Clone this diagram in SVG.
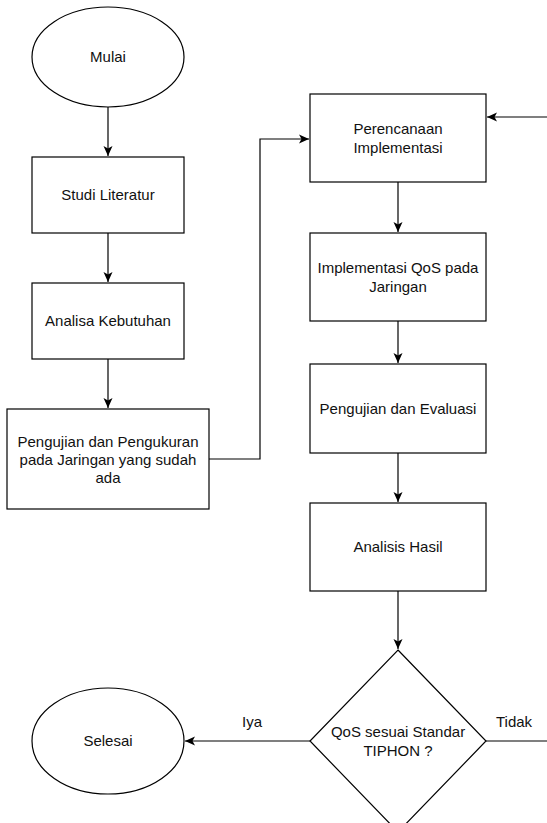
<svg xmlns="http://www.w3.org/2000/svg" width="547" height="823" viewBox="0 0 547 823">
<style>
.s{fill:#fff;stroke:#000;stroke-width:1.2}
.t{font-family:"Liberation Sans",Arial,sans-serif;font-size:15px;fill:#111;text-anchor:middle}
.c{fill:none;stroke:#000;stroke-width:1.2}
</style>
<defs>
<marker id="a" markerUnits="userSpaceOnUse" markerWidth="12" markerHeight="12" viewBox="0 0 12 12" refX="11" refY="6" orient="auto">
<path d="M1,1.5 L11,6 L1,10.5 L3.5,6 Z" fill="#000"/>
</marker>
</defs>
<rect width="547" height="823" fill="#fff"/>
<g id="connectors">
<path class="c" d="M108,107 V156" marker-end="url(#a)"/>
<path class="c" d="M108,233 V282" marker-end="url(#a)"/>
<path class="c" d="M108,359 V408" marker-end="url(#a)"/>
<path class="c" d="M209,459 H260 V139 H309" marker-end="url(#a)"/>
<path class="c" d="M398,182 V232" marker-end="url(#a)"/>
<path class="c" d="M398,321 V363" marker-end="url(#a)"/>
<path class="c" d="M398,453 V502" marker-end="url(#a)"/>
<path class="c" d="M398,591 V649" marker-end="url(#a)"/>
<path class="c" d="M310,741 H185" marker-end="url(#a)"/>
<path class="c" d="M486,741 H550"/>
<path class="c" d="M550,117 H487" marker-end="url(#a)"/>
<text class="t" x="252" y="727">Iya</text>
<text class="t" x="514" y="727">Tidak</text>
</g>
<g id="mulai">
<ellipse class="s" cx="108" cy="57" rx="76" ry="50"/>
<text class="t" x="108" y="62">Mulai</text>
</g>
<g id="studi">
<rect class="s" x="32" y="157" width="152" height="76"/>
<text class="t" x="108" y="200">Studi Literatur</text>
</g>
<g id="analisa">
<rect class="s" x="32" y="283" width="152" height="76"/>
<text class="t" x="108" y="326">Analisa Kebutuhan</text>
</g>
<g id="pengukuran">
<rect class="s" x="7" y="409" width="202" height="100"/>
<text class="t" x="108" y="447">Pengujian dan Pengukuran</text>
<text class="t" x="108" y="465">pada Jaringan yang sudah</text>
<text class="t" x="108" y="483">ada</text>
</g>
<g id="perencanaan">
<rect class="s" x="310" y="94" width="176" height="88"/>
<text class="t" x="398" y="134">Perencanaan</text>
<text class="t" x="398" y="153">Implementasi</text>
</g>
<g id="implementasi">
<rect class="s" x="310" y="233" width="176" height="88"/>
<text class="t" x="398" y="273">Implementasi QoS pada</text>
<text class="t" x="398" y="292">Jaringan</text>
</g>
<g id="evaluasi">
<rect class="s" x="310" y="364" width="176" height="89"/>
<text class="t" x="398" y="414">Pengujian dan Evaluasi</text>
</g>
<g id="analisis">
<rect class="s" x="310" y="503" width="176" height="88"/>
<text class="t" x="398" y="552">Analisis Hasil</text>
</g>
<g id="keputusan">
<path class="s" d="M398,650 L486,741 L398,832 L310,741 Z"/>
<text class="t" x="398" y="737">QoS sesuai Standar</text>
<text class="t" x="398" y="756">TIPHON ?</text>
</g>
<g id="selesai">
<ellipse class="s" cx="108" cy="741" rx="76" ry="53"/>
<text class="t" x="108" y="746">Selesai</text>
</g>
</svg>
